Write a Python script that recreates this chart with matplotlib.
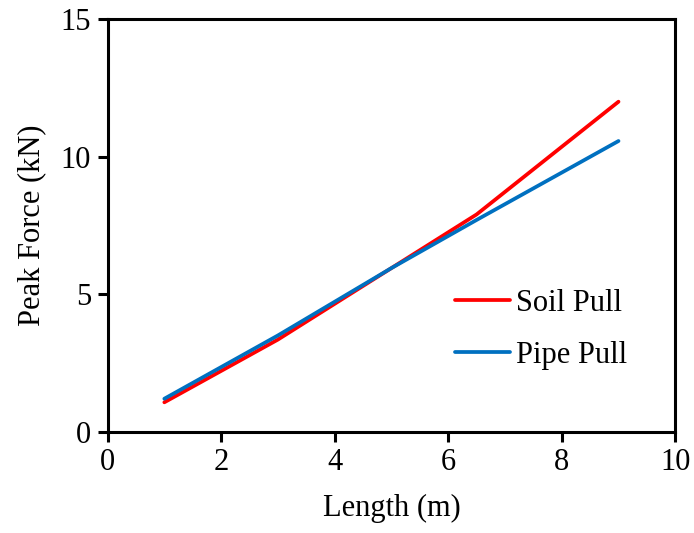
import matplotlib
matplotlib.use('Agg')
import matplotlib.pyplot as plt

# Data
length = [1, 3, 5, 6.5, 9]
soil_pull = [1.07, 3.35, 5.95, 7.9, 12.0]
pipe_pull = [1.2, 3.5, 5.95, 7.7, 10.57]

plt.rcParams['font.family'] = ['Liberation Serif', 'DejaVu Serif']
plt.rcParams['font.size'] = 22

fig, ax = plt.subplots(figsize=(6.94, 5.33), dpi=100)
ax.plot(length, soil_pull, color='#FF0000', linewidth=2.7, label='Soil Pull', solid_capstyle='round')
ax.plot(length, pipe_pull, color='#0070C0', linewidth=2.7, label='Pipe Pull', solid_capstyle='round')

ax.set_xlim(0, 10)
ax.set_ylim(0, 15)
ax.set_xticks([0, 2, 4, 6, 8, 10])
ax.set_yticks([0, 5, 10, 15])
ax.set_xlabel('Length (m)', labelpad=12)
ax.set_ylabel('Peak Force (kN)', labelpad=10)
for s in ax.spines.values():
    s.set_linewidth(2.2)
ax.tick_params(direction='out', length=7, width=2.2, labelsize=22, pad=5)

ax.legend(loc='center left', bbox_to_anchor=(0.59, 0.248), borderaxespad=0,
          frameon=False, handlelength=1.8, handletextpad=0.2, fontsize=22,
          labelspacing=0.75)

fig.subplots_adjust(left=0.155, right=0.973, top=0.964, bottom=0.19)
fig.savefig('out.png', dpi=100)
